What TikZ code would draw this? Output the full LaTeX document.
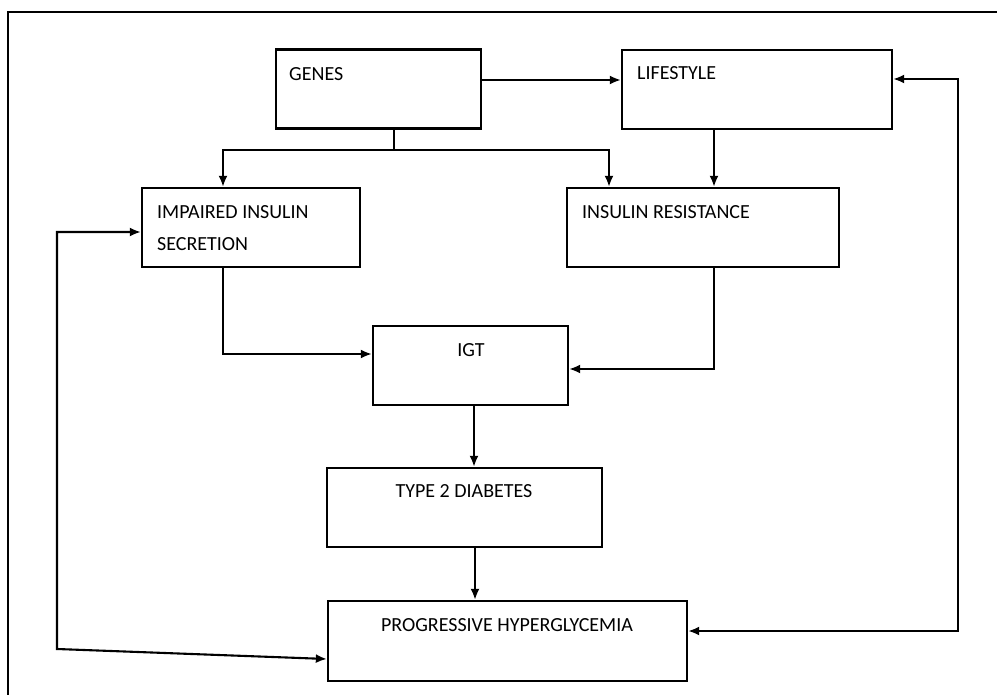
\documentclass[tikz,border=0pt]{standalone}
\usepackage{fontspec}
\setmainfont{Carlito}
\usetikzlibrary{arrows.meta,calc}

\begin{document}
\begin{tikzpicture}[x=1pt, y=-1pt, >={Latex[length=11pt,width=9pt]},
    box/.style={draw, line width=2.3pt, inner sep=0pt, minimum height=79pt},
    lbl/.style={inner sep=0pt, font=\fontsize{20}{32}\selectfont},
    conn/.style={line width=2.1pt}]
  \useasboundingbox (0,0) rectangle (997,695);
  \draw[line width=2.2pt] (8,695) -- (8,12) -- (997,12);

  % boxes
  \node[box, minimum width=205pt] (genes) at (378.5,89) {};
  \node[box, minimum width=270pt] (life) at (757,89.5) {};
  \node[box, minimum width=218pt] (iis) at (251,227.5) {};
  \node[box, minimum width=272pt] (ir) at (703,227.5) {};
  \node[box, minimum width=195pt] (igt) at (470.5,365.5) {};
  \node[box, minimum width=275pt] (t2d) at (464.5,507.5) {};
  \node[box, minimum width=359pt, minimum height=80pt] (ph) at (507.5,641) {};

  % texts
  \node[lbl, anchor=west] (genes-t) at (289,74) {GENES};
  \node[lbl, anchor=west] (life-t) at (637,73) {LIFESTYLE};
  \node[lbl, anchor=north west, align=left] (iis-t) at (157,205.5) {IMPAIRED INSULIN\\SECRETION};
  \node[lbl, anchor=west] (ir-t) at (582,212) {INSULIN RESISTANCE};
  \node[lbl] (igt-t) at (471,350) {IGT};
  \node[lbl] (t2d-t) at (464,491) {TYPE 2 DIABETES};
  \node[lbl] (ph-t) at (507,625) {PROGRESSIVE HYPERGLYCEMIA};

  % connectors
  \draw[conn, ->] ([yshift=9pt]genes.east) -- ([yshift=9pt]genes.east -| life.west);
  \draw[conn] ([xshift=15.5pt]genes.south) -- ++(0,20) coordinate (split);
  \draw[conn, ->] (split) -| ([xshift=-28pt]iis.north);
  \draw[conn, ->] (split) -| ([xshift=-94pt]ir.north);
  \draw[conn, ->] ([xshift=-43pt]life.south) -- ([xshift=-43pt]life.south |- ir.north);
  \draw[conn, ->] ([xshift=-28pt]iis.south) |- ([yshift=11.5pt]igt.west);
  \draw[conn, ->] ([xshift=11pt]ir.south) |- ([yshift=-3.5pt]igt.east);
  \draw[conn, ->] ([xshift=3.5pt]igt.south) -- ([xshift=3.5pt]igt.south |- t2d.north);
  \draw[conn, ->] ([xshift=10.5pt]t2d.south) -- ([xshift=10.5pt]t2d.south |- ph.north);

  % feedback loops
  \draw[conn, <->] ([yshift=10.5pt]life.east) -- ++(65,0) |- ([yshift=10pt]ph.east);
  \coordinate (fbl) at (57,649);
  \draw[conn, <->] ([yshift=-4.5pt]iis.west) -| (fbl) -- ([yshift=-18pt]ph.west);
\end{tikzpicture}
\end{document}
